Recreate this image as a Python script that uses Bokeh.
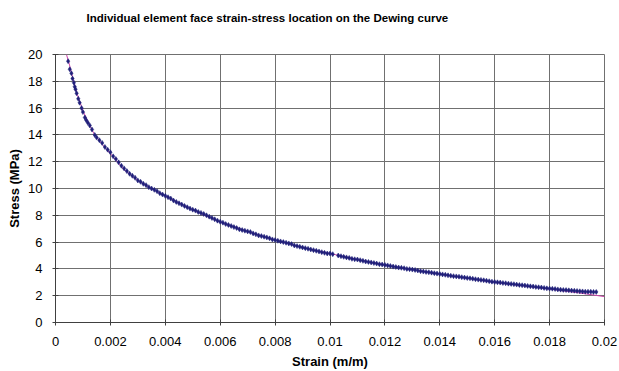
from bokeh.plotting import figure
from bokeh.models import Range1d, FixedTicker, CustomJSTickFormatter, Title
from bokeh.embed import file_html
from bokeh.resources import INLINE

# Dewing curve (line)
curve_strain = [0.0004, 0.0005, 0.0006, 0.0007, 0.0008, 0.0009, 0.001, 0.0012, 0.0014, 0.0017,
                0.002, 0.0025, 0.003, 0.0035, 0.004, 0.005, 0.006, 0.007, 0.008, 0.009,
                0.010, 0.011, 0.012, 0.013, 0.014, 0.015, 0.016, 0.017, 0.018, 0.019, 0.020]
curve_stress = [20.0, 19.3, 18.5, 17.7, 17.0, 16.4, 15.8, 14.9, 14.1, 13.3,
                12.6, 11.4, 10.6, 10.0, 9.45, 8.4, 7.5, 6.8, 6.15, 5.6,
                5.15, 4.7, 4.3, 3.95, 3.62, 3.3, 3.0, 2.75, 2.5, 2.23, 1.93]

# Individual element face strain-stress points (first group)
elem_strain = [0.00046, 0.00052, 0.00058, 0.00062, 0.00067, 0.00070, 0.00073, 0.00077, 0.00083, 0.00088,
               0.00095, 0.00100, 0.00107, 0.00112, 0.00118, 0.00125, 0.00133, 0.00143, 0.00150, 0.00160,
               0.00170, 0.00180, 0.00190, 0.00200, 0.00210,
               0.0022, 0.0024, 0.0025, 0.0027, 0.0029, 0.0030, 0.0032, 0.0033, 0.0035, 0.0036,
               0.0038, 0.0040, 0.0041, 0.0043, 0.0044, 0.0046, 0.0048, 0.0049, 0.0051, 0.0052,
               0.0054, 0.0056, 0.0057, 0.0059, 0.0061, 0.0062, 0.0064, 0.0066, 0.0067, 0.0069,
               0.0071, 0.0072, 0.0074, 0.0076, 0.0077, 0.0079, 0.0081, 0.0082, 0.0084, 0.0086,
               0.0087, 0.0089, 0.0091, 0.0092, 0.0094, 0.0096, 0.0097, 0.0099, 0.0101,
               0.0103, 0.0105, 0.0107, 0.0108, 0.0110, 0.0112, 0.0113, 0.0115, 0.0117, 0.0118,
               0.0120, 0.0122, 0.0123, 0.0125, 0.0127, 0.0128, 0.0130, 0.0132, 0.0133, 0.0135,
               0.0137, 0.0138, 0.0140, 0.0142, 0.0143, 0.0145, 0.0147, 0.0148, 0.0150, 0.0152,
               0.0153, 0.0155, 0.0157, 0.0158, 0.0160, 0.0162, 0.0163, 0.0165, 0.0167, 0.0168,
               0.0170, 0.0172, 0.0173, 0.0175, 0.0177, 0.0178, 0.0180, 0.0182, 0.0183, 0.0185,
               0.0187, 0.0188, 0.0190, 0.0191, 0.0192, 0.0193, 0.0194, 0.0196, 0.0197]
elem_stress = [19.5, 18.9, 18.6, 18.2, 17.9, 17.6, 17.4, 17.1, 16.7, 16.4,
               16.0, 15.7, 15.3, 15.1, 14.9, 14.7, 14.4, 14.0, 13.8, 13.6,
               13.4, 13.1, 12.9, 12.7, 12.4,
               12.2, 11.7, 11.5, 11.1, 10.8, 10.6, 10.35, 10.25, 10.0, 9.9,
               9.65, 9.45, 9.35, 9.1, 9.0, 8.8, 8.6, 8.5, 8.35, 8.25,
               8.1, 7.9, 7.8, 7.6, 7.45, 7.35, 7.2, 7.05, 6.95, 6.85,
               6.75, 6.65, 6.5, 6.4, 6.35, 6.2, 6.1, 6.05, 5.95, 5.85,
               5.75, 5.65, 5.55, 5.5, 5.4, 5.3, 5.25, 5.15, 5.1,
               5.0, 4.9, 4.82, 4.75, 4.7, 4.6, 4.55, 4.48, 4.4, 4.35,
               4.3, 4.22, 4.17, 4.1, 4.05, 4.0, 3.95, 3.88, 3.83, 3.77,
               3.72, 3.68, 3.62, 3.56, 3.52, 3.46, 3.42, 3.38, 3.32, 3.27,
               3.23, 3.18, 3.12, 3.08, 3.02, 2.98, 2.95, 2.9, 2.86, 2.83,
               2.78, 2.73, 2.7, 2.65, 2.61, 2.58, 2.53, 2.5, 2.47, 2.43,
               2.4, 2.38, 2.35, 2.33, 2.32, 2.3, 2.3, 2.28, 2.28]

# Individual element face strain-stress points (second group, filling the dense band)
elem_strain_2 = [0.0023, 0.0026, 0.0028, 0.0031, 0.0034, 0.0037, 0.0039, 0.0042, 0.0045, 0.0047,
                 0.0050, 0.0053, 0.0055, 0.0058, 0.0060, 0.0063, 0.0065, 0.0068, 0.0070, 0.0073,
                 0.0075, 0.0078, 0.0080, 0.0083, 0.0085, 0.0088, 0.0090, 0.0093, 0.0095, 0.0098,
                 0.0100, 0.0104, 0.0106, 0.0109, 0.0111, 0.0114, 0.0116, 0.0119, 0.0121, 0.0124,
                 0.0126, 0.0129, 0.0131, 0.0134, 0.0136, 0.0139, 0.0141, 0.0144, 0.0146, 0.0149,
                 0.0151, 0.0154, 0.0156, 0.0159, 0.0161, 0.0164, 0.0166, 0.0169, 0.0171, 0.0174,
                 0.0176, 0.0179, 0.0181, 0.0184, 0.0186, 0.0189, 0.0195]
elem_stress_2 = [11.95, 11.3, 10.95, 10.5, 10.1, 9.8, 9.55, 9.25, 8.9, 8.7,
                 8.42, 8.18, 8.0, 7.7, 7.52, 7.28, 7.12, 6.9, 6.8, 6.58,
                 6.45, 6.28, 6.15, 6.0, 5.9, 5.7, 5.6, 5.45, 5.35, 5.2,
                 5.15, 4.95, 4.86, 4.72, 4.65, 4.52, 4.44, 4.33, 4.26, 4.14,
                 4.08, 3.98, 3.92, 3.8, 3.75, 3.65, 3.59, 3.49, 3.44, 3.35,
                 3.3, 3.2, 3.15, 3.05, 3.0, 2.93, 2.88, 2.8, 2.76, 2.68,
                 2.63, 2.55, 2.52, 2.45, 2.42, 2.37, 2.29]

x_ticks = [0, 0.002, 0.004, 0.006, 0.008, 0.01, 0.012, 0.014, 0.016, 0.018, 0.02]
y_ticks = [0, 2, 4, 6, 8, 10, 12, 14, 16, 18, 20]

title_text = "Individual element face strain-stress location on the Dewing curve"

FONT = "Liberation Sans"
GRID = "#707070"
MARK = "#20207a"

p = figure(width=619, height=371, output_backend="svg", toolbar_location=None,
           x_range=Range1d(0, 0.02), y_range=Range1d(0, 20),
           min_border_left=55, min_border_right=15, min_border_top=54, min_border_bottom=49,
           background_fill_color="white", border_fill_color="white")

# extra blank lines lift the single visible title line towards the top of the page
t = Title(text=title_text + "\n \n ",
          text_font=FONT, text_font_size="11.5px", text_font_style="bold", text_color="black",
          align="left", offset=31, standoff=4, text_line_height=1.2)
p.add_layout(t, "above")

p.outline_line_color = GRID

p.xaxis.ticker = FixedTicker(ticks=x_ticks)
p.yaxis.ticker = FixedTicker(ticks=y_ticks)
p.xaxis.formatter = CustomJSTickFormatter(code="return tick.toFixed(3).replace(/\\.?0+$/, '');")
p.xgrid.ticker = FixedTicker(ticks=x_ticks)
p.ygrid.ticker = FixedTicker(ticks=y_ticks)
for g in (p.xgrid, p.ygrid):
    g.grid_line_color = GRID
    g.grid_line_width = 1

for ax in (p.xaxis, p.yaxis):
    ax.axis_line_color = "#404040"
    ax.major_tick_line_color = "#404040"
    ax.major_tick_in = 3
    ax.major_tick_out = 3
    ax.minor_tick_line_color = None
    ax.major_label_text_font = FONT
    ax.major_label_text_font_size = "13px"
    ax.major_label_text_color = "black"
    ax.axis_label_text_font = FONT
    ax.axis_label_text_font_size = "13px"
    ax.axis_label_text_font_style = "bold"
    ax.axis_label_text_color = "black"

p.xaxis.axis_label = "Strain (m/m)"
p.yaxis.axis_label = "Stress (MPa)"
p.xaxis.major_label_standoff = 11
p.yaxis.major_label_standoff = 10
p.xaxis.axis_label_standoff = 5
p.yaxis.axis_label_standoff = 3

p.line(curve_strain, curve_stress, line_color="#cc44aa", line_width=1)
p.scatter(elem_strain, elem_stress, marker="diamond", size=5,
          fill_color=MARK, line_color=MARK, line_width=0.5)
p.scatter(elem_strain_2, elem_stress_2, marker="diamond", size=5,
          fill_color=MARK, line_color=MARK, line_width=0.5)

open("out.html", "w").write(file_html(p, INLINE))
